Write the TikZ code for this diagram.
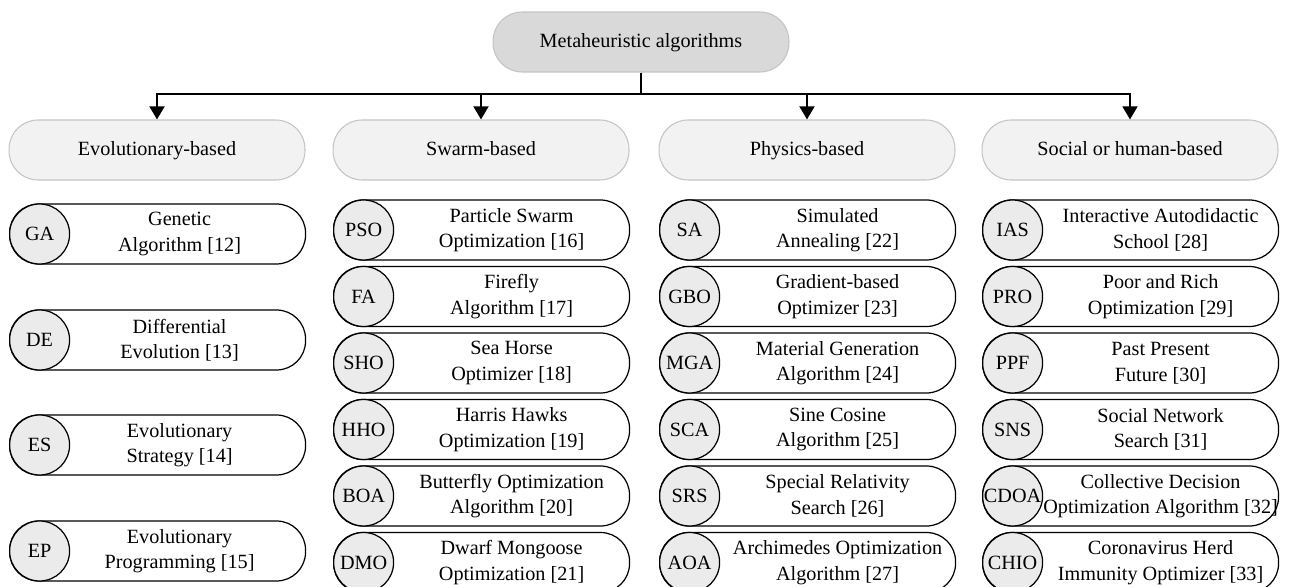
\documentclass[tikz,border=0pt]{standalone}
\usepackage{fontspec}
\setmainfont{Liberation Serif}
\usetikzlibrary{arrows.meta}
\definecolor{rootfill}{HTML}{D9D9D9}
\definecolor{famfill}{HTML}{F2F2F2}
\definecolor{famedge}{HTML}{C4C4C4}
\definecolor{abbrfill}{HTML}{EBEBEB}
\definecolor{ink}{HTML}{000000}

\begin{document}
\begin{tikzpicture}[x=0.02cm,y=-0.02cm,font=\fontsize{11.5}{14.5}\selectfont,
  root/.style={draw=famedge,fill=rootfill,line width=0.6pt,rounded corners=0.58cm,minimum width=5.92cm,minimum height=1.2cm,inner sep=0pt,text height=1.75ex,text depth=0.5ex},
  family/.style={root,fill=famfill},
  algo/.style={draw=ink,fill=white,line width=0.7pt,rounded corners=0.58cm,minimum width=5.92cm,minimum height=1.2cm,inner sep=0pt,anchor=west},
  abbr/.style={circle,draw=ink,fill=abbrfill,line width=0.7pt,minimum size=1.2cm,inner sep=0pt,anchor=west},
  desc/.style={align=center,inner sep=0pt},
  branch/.style={-{Triangle[length=7.5pt,width=8.5pt]},line width=1.3pt,ink}]
  \useasboundingbox (0,0) rectangle (1301,587);

  % ===== root and families =====
  \node[root] (root) at (641,42) {Metaheuristic algorithms};
  \node[family] (evo) at (157,150) {Evolutionary-based};
  \node[family] (swarm) at (481,150) {Swarm-based};
  \node[family] (phys) at (807,150) {Physics-based};
  \node[family] (social) at (1130,150) {Social or human-based};

  \coordinate (bar) at (641,94);
  \foreach \f in {evo,swarm,phys,social}
    \draw[branch] (root.south) -- (bar) -| (\f.north);

  % ===== evolutionary-based =====
  \node[algo] (ga) at (9,234) {}; \node[abbr] (ga-c) at (ga.west) {\makebox[0pt]{GA}};
  \node[desc] (ga-t) at ([xshift=0.44cm]ga.center) {Genetic\\Algorithm [12]};
  \node[algo] (de) at (9,340) {}; \node[abbr] (de-c) at (de.west) {\makebox[0pt]{DE}};
  \node[desc] (de-t) at ([xshift=0.44cm]de.center) {Differential\\Evolution [13]};
  \node[algo] (es) at (9,445) {}; \node[abbr] (es-c) at (es.west) {\makebox[0pt]{ES}};
  \node[desc] (es-t) at ([xshift=0.44cm]es.center) {Evolutionary\\Strategy [14]};
  \node[algo] (ep) at (9,551) {}; \node[abbr] (ep-c) at (ep.west) {\makebox[0pt]{EP}};
  \node[desc] (ep-t) at ([xshift=0.44cm]ep.center) {Evolutionary\\Programming [15]};

  % ===== swarm-based =====
  \node[algo] (pso) at (333,230) {}; \node[abbr] (pso-c) at (pso.west) {\makebox[0pt]{PSO}};
  \node[desc] (pso-t) at ([xshift=0.6cm]pso.center) {Particle Swarm\\Optimization [16]};
  \node[algo] (fa) at (333,296.5) {}; \node[abbr] (fa-c) at (fa.west) {\makebox[0pt]{FA}};
  \node[desc] (fa-t) at ([xshift=0.6cm]fa.center) {Firefly\\Algorithm [17]};
  \node[algo] (sho) at (333,363) {}; \node[abbr] (sho-c) at (sho.west) {\makebox[0pt]{SHO}};
  \node[desc] (sho-t) at ([xshift=0.6cm]sho.center) {Sea Horse\\Optimizer [18]};
  \node[algo] (hho) at (333,429.5) {}; \node[abbr] (hho-c) at (hho.west) {\makebox[0pt]{HHO}};
  \node[desc] (hho-t) at ([xshift=0.6cm]hho.center) {Harris Hawks\\Optimization [19]};
  \node[algo] (boa) at (333,496) {}; \node[abbr] (boa-c) at (boa.west) {\makebox[0pt]{BOA}};
  \node[desc] (boa-t) at ([xshift=0.6cm]boa.center) {Butterfly Optimization\\Algorithm [20]};
  \node[algo] (dmo) at (333,562.5) {}; \node[abbr] (dmo-c) at (dmo.west) {\makebox[0pt]{DMO}};
  \node[desc] (dmo-t) at ([xshift=0.6cm]dmo.center) {Dwarf Mongoose\\Optimization [21]};

  % ===== physics-based =====
  \node[algo] (sa) at (659,230) {}; \node[abbr] (sa-c) at (sa.west) {\makebox[0pt]{SA}};
  \node[desc] (sa-t) at ([xshift=0.6cm]sa.center) {Simulated\\Annealing [22]};
  \node[algo] (gbo) at (659,296.5) {}; \node[abbr] (gbo-c) at (gbo.west) {\makebox[0pt]{GBO}};
  \node[desc] (gbo-t) at ([xshift=0.6cm]gbo.center) {Gradient-based\\Optimizer [23]};
  \node[algo] (mga) at (659,363) {}; \node[abbr] (mga-c) at (mga.west) {\makebox[0pt]{MGA}};
  \node[desc] (mga-t) at ([xshift=0.6cm]mga.center) {Material Generation\\Algorithm [24]};
  \node[algo] (sca) at (659,429.5) {}; \node[abbr] (sca-c) at (sca.west) {\makebox[0pt]{SCA}};
  \node[desc] (sca-t) at ([xshift=0.6cm]sca.center) {Sine Cosine\\Algorithm [25]};
  \node[algo] (srs) at (659,496) {}; \node[abbr] (srs-c) at (srs.west) {\makebox[0pt]{SRS}};
  \node[desc] (srs-t) at ([xshift=0.6cm]srs.center) {Special Relativity\\Search [26]};
  \node[algo] (aoa) at (659,562.5) {}; \node[abbr] (aoa-c) at (aoa.west) {\makebox[0pt]{AOA}};
  \node[desc] (aoa-t) at ([xshift=0.6cm]aoa.center) {Archimedes Optimization\\Algorithm [27]};

  % ===== social or human-based =====
  \node[algo] (ias) at (982,230) {}; \node[abbr] (ias-c) at (ias.west) {\makebox[0pt]{IAS}};
  \node[desc] (ias-t) at ([xshift=0.6cm]ias.center) {Interactive Autodidactic\\School [28]};
  \node[algo] (pro) at (982,296.5) {}; \node[abbr] (pro-c) at (pro.west) {\makebox[0pt]{PRO}};
  \node[desc] (pro-t) at ([xshift=0.6cm]pro.center) {Poor and Rich\\Optimization [29]};
  \node[algo] (ppf) at (982,363) {}; \node[abbr] (ppf-c) at (ppf.west) {\makebox[0pt]{PPF}};
  \node[desc] (ppf-t) at ([xshift=0.6cm]ppf.center) {Past Present\\Future [30]};
  \node[algo] (sns) at (982,429.5) {}; \node[abbr] (sns-c) at (sns.west) {\makebox[0pt]{SNS}};
  \node[desc] (sns-t) at ([xshift=0.6cm]sns.center) {Social Network\\Search [31]};
  \node[algo] (cdoa) at (982,496) {}; \node[abbr] (cdoa-c) at (cdoa.west) {\makebox[0pt]{CDOA}};
  \node[desc] (cdoa-t) at ([xshift=0.6cm]cdoa.center) {Collective Decision\\Optimization Algorithm [32]};
  \node[algo] (chio) at (982,562.5) {}; \node[abbr] (chio-c) at (chio.west) {\makebox[0pt]{CHIO}};
  \node[desc] (chio-t) at ([xshift=0.6cm]chio.center) {Coronavirus Herd\\Immunity Optimizer [33]};
\end{tikzpicture}
\end{document}
